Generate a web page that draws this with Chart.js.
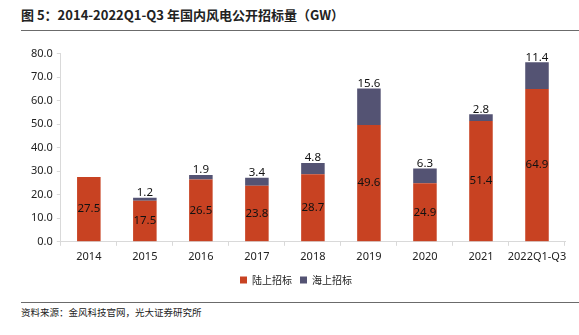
<!DOCTYPE html>
<html lang="zh">
  <head>
    <meta charset="UTF-8" />
    <title>2014-2022Q1-Q3 年国内风电公开招标量</title>
    <style>
      body {
        margin: 0;
        padding: 0;
        background: #fff;
        font-family: "Noto Sans CJK SC", "Noto Sans", sans-serif;
      }
      .page {
        position: relative;
        width: 579px;
        height: 335px;
        overflow: hidden;
      }
      .title {
        position: absolute;
        left: 21px;
        top: 5px;
        font-size: 13px;
        font-weight: bold;
        color: #222;
      }
      .rule {
        position: absolute;
        left: 21px;
        right: 0;
        height: 0;
        border-top: 1.5px solid #6b6b6b;
      }
      .source {
        position: absolute;
        left: 21px;
        top: 305px;
        font-size: 9.5px;
        color: #222;
      }
      .chart {
        position: absolute;
        left: 0;
        top: 43px;
        width: 579px;
        height: 258px;
      }
    </style>
  </head>
  <body>
    <div class="page">
      <div class="title">图 5：2014-2022Q1-Q3 年国内风电公开招标量（GW）</div>
      <div class="rule" style="top: 30px"></div>
      <div class="chart"><canvas id="bidChart"></canvas></div>
      <div class="rule" style="top: 302px"></div>
      <div class="source">资料来源：金风科技官网，光大证券研究所</div>
    </div>

    <script src="https://cdn.jsdelivr.net/npm/chart.js"></script>
    <script>
      // data (GW)
      const years = ["2014", "2015", "2016", "2017", "2018", "2019", "2020", "2021", "2022Q1-Q3"];
      const onshore = [27.5, 17.5, 26.5, 23.8, 28.7, 49.6, 24.9, 51.4, 64.9];
      const offshore = [0, 1.2, 1.9, 3.4, 4.8, 15.6, 6.3, 2.8, 11.4];
      const seriesNames = ["陆上招标", "海上招标"];

      const tickFont = { size: 11, family: "'Noto Sans', sans-serif" };

      // value labels: onshore in the middle, offshore just above the top edge
      const valueLabels = {
        id: "valueLabels",
        afterDatasetsDraw(chart) {
          const ctx = chart.ctx;
          ctx.save();
          ctx.font = "11.5px 'Noto Sans', sans-serif";
          ctx.fillStyle = "#111";
          ctx.textAlign = "center";
          ctx.textBaseline = "middle";
          chart.data.datasets.forEach((ds, i) => {
            chart.getDatasetMeta(i).data.forEach((bar, j) => {
              const v = ds.data[j];
              if (!v) return;
              if (i === 0) {
                ctx.fillText(v.toFixed(1), bar.x, (bar.y + bar.base) / 2);
              } else {
                ctx.fillText(v.toFixed(1), bar.x, bar.y - 5);
              }
            });
          });
          ctx.restore();
        },
      };

      new Chart(document.getElementById("bidChart"), {
        type: "bar",
        data: {
          labels: years,
          datasets: [
            {
              label: seriesNames[0],
              data: onshore,
              backgroundColor: "#c84222",
              categoryPercentage: 1,
              barPercentage: 0.42,
            },
            {
              label: seriesNames[1],
              data: offshore,
              backgroundColor: "#545373",
              categoryPercentage: 1,
              barPercentage: 0.42,
            },
          ],
        },
        options: {
          responsive: true,
          maintainAspectRatio: false,
          animation: false,
          layout: { padding: { left: 27, right: 14, top: 8, bottom: 6 } },
          plugins: {
            tooltip: { enabled: false },
            legend: {
              position: "bottom",
              labels: {
                boxWidth: 7,
                boxHeight: 7,
                padding: 8,
                color: "#222",
                font: { size: 10, family: "'Noto Sans CJK SC', sans-serif" },
              },
            },
          },
          scales: {
            x: {
              stacked: true,
              offset: true,
              grid: {
                display: true,
                drawOnChartArea: false,
                offset: true,
                tickLength: 4,
                color: "#d9d9d9",
              },
              border: { color: "#d9d9d9" },
              ticks: {
                color: "#222",
                font: tickFont,
                maxRotation: 0,
                autoSkip: false,
                padding: 4,
              },
            },
            y: {
              stacked: true,
              min: 0,
              max: 80,
              grid: {
                display: true,
                drawOnChartArea: false,
                tickLength: 4,
                color: "#d9d9d9",
              },
              border: { color: "#d9d9d9" },
              ticks: {
                stepSize: 10,
                color: "#222",
                padding: 4,
                font: tickFont,
                callback: (v) => v.toFixed(1),
              },
            },
          },
        },
        plugins: [valueLabels],
      });
    </script>
  </body>
</html>
